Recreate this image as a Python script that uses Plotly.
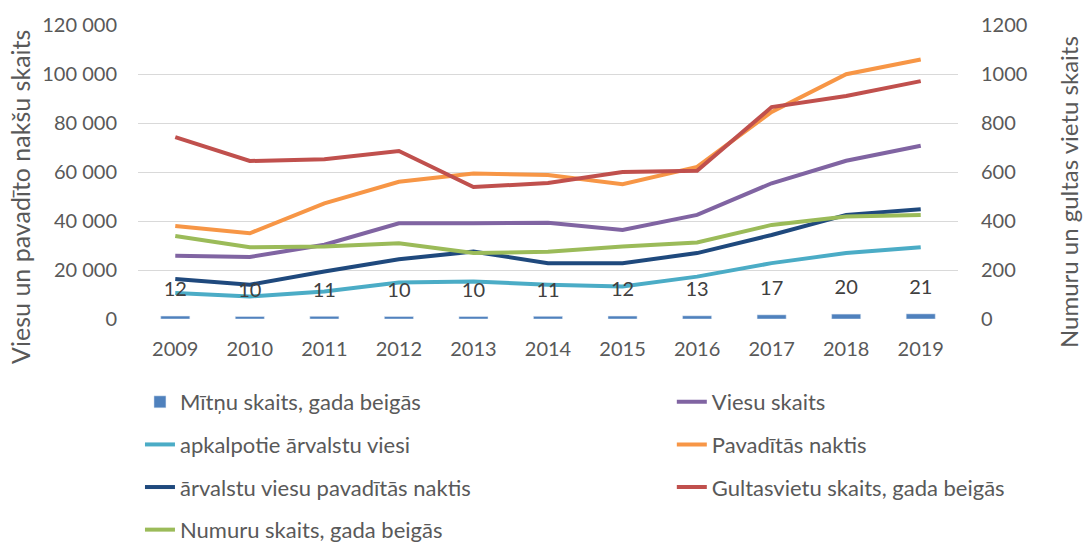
import plotly.graph_objects as go

years = ["2009", "2010", "2011", "2012", "2013", "2014", "2015", "2016", "2017", "2018", "2019"]
mitnu = [12, 10, 11, 10, 10, 11, 12, 13, 17, 20, 21]
viesu = [25800, 25300, 30300, 39100, 39100, 39300, 36300, 42500, 55400, 64600, 70700]
arv_viesi = [10600, 9200, 11200, 14900, 15300, 14000, 13300, 17300, 22800, 26900, 29300]
pav_naktis = [38000, 35000, 47200, 56000, 59400, 58800, 55000, 62100, 84500, 99900, 105900]
arv_naktis = [16300, 14000, 19400, 24400, 27500, 22800, 22800, 26900, 34300, 42500, 44800]
gultas = [742, 645, 652, 686, 539, 555, 600, 605, 865, 910, 971]
numuru = [339, 293, 296, 309, 269, 275, 296, 312, 384, 418, 425]

left_ticks = [0, 20000, 40000, 60000, 80000, 100000, 120000]
right_ticks = [0, 200, 400, 600, 800, 1000, 1200]

FONT = "Lato"
TXT = "#595959"
FS = 20
LFS = 22
TFS = 24

fig = go.Figure()

fig.add_trace(go.Bar(x=years, y=mitnu, name="Mītņu skaits, gada beigās", yaxis="y2",
                     marker=dict(color="#4F81BD"), legend="legend", legendgroup="a"))
fig.add_trace(go.Scatter(x=years, y=mitnu, yaxis="y2", mode="markers+text", text=[str(v) for v in mitnu],
                         textposition="top center", marker=dict(size=22, opacity=0),
                         textfont=dict(family=FONT, size=FS, color="#404040"), showlegend=False, hoverinfo="skip"))

line_series = [
    ("Viesu skaits", viesu, "#8064A2", "y", "legend2", "b"),
    ("apkalpotie ārvalstu viesi", arv_viesi, "#4BACC6", "y", "legend", "c"),
    ("Pavadītās naktis", pav_naktis, "#F79646", "y", "legend2", "d"),
    ("ārvalstu viesu pavadītās naktis", arv_naktis, "#1F497D", "y", "legend", "e"),
    ("Gultasvietu skaits, gada beigās", gultas, "#C0504D", "y2", "legend2", "f"),
    ("Numuru skaits, gada beigās", numuru, "#9BBB59", "y2", "legend", "g"),
]
for name, vals, col, ax, lg, grp in line_series:
    fig.add_trace(go.Scatter(x=years, y=vals, name=name, yaxis=ax, mode="lines",
                             line=dict(color=col, width=4), legend=lg, legendgroup=grp))

fig.update_layout(
    width=1084, height=544,
    margin=dict(l=138, r=126, t=25, b=225, autoexpand=False),
    paper_bgcolor="white", plot_bgcolor="white",
    font=dict(family=FONT, size=FS, color=TXT),
    separators=". ",
    bargap=0.61,
    xaxis=dict(type="category", range=[-0.5, len(years) - 0.5], showgrid=False, showline=False, ticks="",
               ticklabelstandoff=16, tickfont=dict(size=FS, color=TXT)),
    yaxis=dict(range=[0, 120000], tickvals=left_ticks, tickformat=",d", showgrid=True, gridcolor="#D9D9D9",
               gridwidth=1, zeroline=False, showline=False, ticks="", ticklabelstandoff=20,
               tickfont=dict(size=FS, color=TXT)),
    yaxis2=dict(range=[0, 1200], tickvals=right_ticks, overlaying="y", side="right", showgrid=False,
                zeroline=False, showline=False, ticks="", ticklabelstandoff=22, tickfont=dict(size=FS, color=TXT)),
    legend=dict(x=0.0024, xanchor="left", y=-0.211, yanchor="top", orientation="v",
                tracegroupgap=11, font=dict(size=LFS, color=TXT), bgcolor="rgba(0,0,0,0)"),
    legend2=dict(x=0.651, xanchor="left", y=-0.211, yanchor="top", orientation="v",
                 tracegroupgap=11, font=dict(size=LFS, color=TXT), bgcolor="rgba(0,0,0,0)"),
    annotations=[
        dict(text="Viesu un pavadīto nakšu skaits", textangle=-90, xref="paper", yref="paper",
             x=-0.144, y=0.415, xanchor="center", yanchor="middle", showarrow=False,
             font=dict(size=TFS + 1, color=TXT)),
        dict(text="Numuru un gultas vietu skaits", textangle=-90, xref="paper", yref="paper",
             x=1.1355, y=0.432, xanchor="center", yanchor="middle", showarrow=False,
             font=dict(size=TFS, color=TXT)),
    ],
    showlegend=True,
)

fig.write_html("out.html", config={"displayModeBar": False},
               post_script="document.body.style.margin='0';document.body.style.overflow='hidden';")
